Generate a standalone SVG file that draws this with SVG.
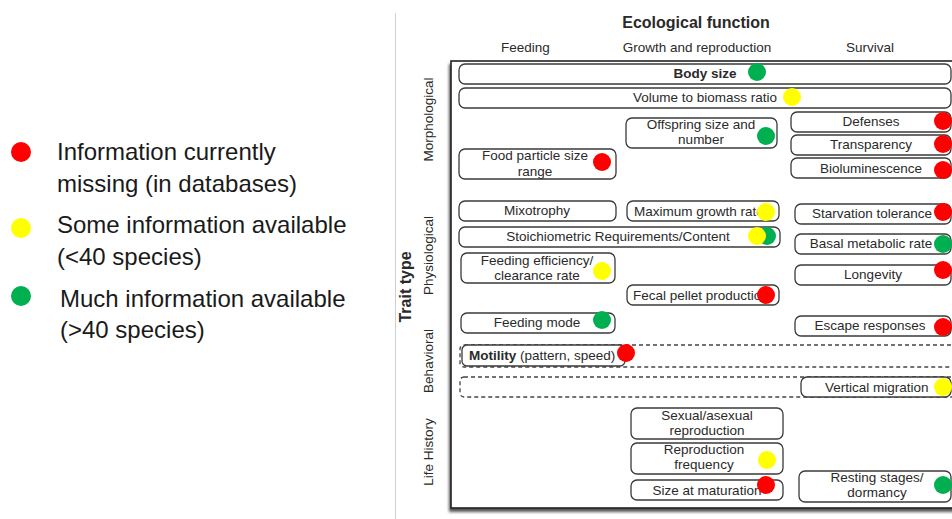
<svg xmlns="http://www.w3.org/2000/svg" width="952" height="519" viewBox="0 0 952 519">
<defs>
<style>
.box{fill:#fff;stroke:#3a3a3a;stroke-width:1.3}
.dash{fill:none;stroke:#444;stroke-width:1.3;stroke-dasharray:4 3}
.t{font-family:"Liberation Sans",Arial,sans-serif;font-size:13.5px;fill:#2a2a2a}
.c{text-anchor:middle}
.b{font-weight:bold}
.h{font-family:"Liberation Sans",Arial,sans-serif;font-size:13.5px;fill:#2a2a2a;text-anchor:middle}
.leg{font-family:"Liberation Sans",Arial,sans-serif;font-size:24px;fill:#1a1a1a}
.r{fill:#ff0000}
.y{fill:#ffff00}
.g{fill:#00b050}
</style>
<filter id="sh" x="-5%" y="-5%" width="110%" height="110%"><feGaussianBlur stdDeviation="1.5"/></filter>
</defs>
<rect width="952" height="519" fill="#fff"/>

<g id="legend">
<circle class="r" cx="21" cy="152" r="10"/>
<text class="leg" x="57" y="160">Information currently</text>
<text class="leg" x="57" y="192">missing (in databases)</text>
<circle class="y" cx="21" cy="228" r="10"/>
<text class="leg" x="57" y="233">Some information available</text>
<text class="leg" x="57" y="265">(&lt;40 species)</text>
<circle class="g" cx="21" cy="296" r="10"/>
<text class="leg" x="60" y="307">Much information available</text>
<text class="leg" x="60" y="338">(&gt;40 species)</text>
</g>

<line x1="395.5" y1="13" x2="395.5" y2="519" stroke="#cfcfcf" stroke-width="1"/>

<g id="headers">
<text class="h b" x="696" y="28" style="font-size:16px">Ecological function</text>
<text class="h" x="525.5" y="52">Feeding</text>
<text class="h" x="697" y="52">Growth and reproduction</text>
<text class="h" x="870" y="52">Survival</text>
<text class="h b" transform="translate(411,287) rotate(-90)" style="font-size:16px">Trait type</text>
<text class="h" transform="translate(433,119.5) rotate(-90)">Morphological</text>
<text class="h" transform="translate(433,255.5) rotate(-90)">Physiological</text>
<text class="h" transform="translate(433,361) rotate(-90)">Behavioral</text>
<text class="h" transform="translate(433,452) rotate(-90)">Life History</text>
</g>

<g id="frame">
<rect x="449" y="64" width="520" height="448" fill="#555" filter="url(#sh)"/>
<rect x="451" y="61" width="520" height="447" fill="#fff" stroke="#222" stroke-width="1.6"/>
</g>

<g id="connectors"></g>

<g id="body-size">
<rect class="box" x="459" y="64" width="492" height="20" rx="6"/>
<text class="t c b" x="705" y="78">Body size</text>
<circle class="g" cx="757" cy="72" r="9"/>
</g>
<g id="volume-biomass">
<rect class="box" x="459" y="88" width="492" height="20" rx="6"/>
<text class="t c" x="705" y="102">Volume to biomass ratio</text>
<circle class="y" cx="792" cy="97" r="9"/>
</g>
<g id="offspring">
<rect class="box" x="626" y="118" width="151" height="30" rx="6"/>
<text class="t c" x="701" y="129">Offspring size and</text>
<text class="t c" x="701" y="144">number</text>
<circle class="g" cx="766" cy="136" r="9"/>
</g>
<g id="defenses">
<rect class="box" x="791" y="112" width="160" height="20" rx="6"/>
<text class="t c" x="871" y="126">Defenses</text>
<circle class="r" cx="943" cy="121" r="9"/>
</g>
<g id="transparency">
<rect class="box" x="791" y="135" width="160" height="20" rx="6"/>
<text class="t c" x="871" y="149">Transparency</text>
<circle class="r" cx="943" cy="144" r="9"/>
</g>
<g id="bioluminescence">
<rect class="box" x="791" y="158" width="160" height="20" rx="6"/>
<text class="t c" x="871" y="173">Bioluminescence</text>
<circle class="r" cx="943" cy="170" r="9"/>
</g>
<g id="food-particle">
<rect class="box" x="459" y="149" width="157" height="30" rx="6"/>
<text class="t c" x="535" y="160">Food particle size</text>
<text class="t c" x="535" y="176">range</text>
<circle class="r" cx="602" cy="162" r="9"/>
</g>
<g id="mixotrophy">
<rect class="box" x="459" y="201" width="157" height="20" rx="6"/>
<text class="t c" x="537" y="215">Mixotrophy</text>
</g>
<g id="max-growth">
<rect class="box" x="627" y="201" width="152" height="20" rx="6"/>
<text class="t" x="634" y="216">Maximum growth rate</text>
<circle class="y" cx="766" cy="212" r="9"/>
</g>
<g id="starvation">
<rect class="box" x="795" y="204" width="156" height="20" rx="6"/>
<text class="t c" x="872" y="218">Starvation tolerance</text>
<circle class="r" cx="943" cy="212" r="9"/>
</g>
<g id="stoichiometric">
<rect class="box" x="459" y="227" width="321" height="20" rx="6"/>
<text class="t c" x="618" y="241">Stoichiometric Requirements/Content</text>
<circle class="g" cx="767" cy="236" r="9"/>
<circle class="y" cx="757" cy="236" r="9"/>
</g>
<g id="basal-metabolic">
<rect class="box" x="795" y="234" width="156" height="20" rx="6"/>
<text class="t c" x="871" y="248">Basal metabolic rate</text>
<circle class="g" cx="943" cy="244" r="9"/>
</g>
<g id="feeding-efficiency">
<rect class="box" x="461" y="253" width="154" height="30" rx="6"/>
<text class="t c" x="537" y="265">Feeding efficiency/</text>
<text class="t c" x="537" y="280">clearance rate</text>
<circle class="y" cx="602" cy="271" r="9"/>
</g>
<g id="longevity">
<rect class="box" x="795" y="265" width="156" height="20" rx="6"/>
<text class="t c" x="873" y="279">Longevity</text>
<circle class="r" cx="943" cy="270" r="9"/>
</g>
<g id="fecal-pellet">
<rect class="box" x="627" y="285" width="152" height="20" rx="6"/>
<text class="t" x="633" y="300">Fecal pellet production</text>
<circle class="r" cx="766" cy="295" r="9"/>
</g>
<g id="feeding-mode">
<rect class="box" x="461" y="313" width="154" height="20" rx="6"/>
<text class="t c" x="537" y="327">Feeding mode</text>
<circle class="g" cx="602" cy="320" r="9"/>
</g>
<g id="escape">
<rect class="box" x="795" y="316" width="156" height="20" rx="6"/>
<text class="t c" x="870" y="330">Escape responses</text>
<circle class="r" cx="943" cy="327" r="9"/>
</g>
<g id="motility">
<rect class="dash" x="460" y="345" width="500" height="22" rx="4"/>
<rect class="box" x="462" y="345" width="163" height="21" rx="5"/>
<text class="t" x="469" y="360"><tspan class="b">Motility</tspan> (pattern, speed)</text>
<circle class="r" cx="626" cy="353" r="9"/>
</g>
<g id="vertical-migration">
<rect class="dash" x="460" y="377" width="500" height="20" rx="4"/>
<rect class="box" x="801" y="377" width="150" height="20" rx="6"/>
<text class="t" x="825" y="392">Vertical migration</text>
<circle class="y" cx="943" cy="387" r="9"/>
</g>
<g id="sexual-asexual">
<rect class="box" x="631" y="408" width="152" height="31" rx="6"/>
<text class="t c" x="707" y="420">Sexual/asexual</text>
<text class="t c" x="707" y="435">reproduction</text>
</g>
<g id="reproduction-frequency">
<rect class="box" x="631" y="443" width="152" height="31" rx="6"/>
<text class="t c" x="704" y="454">Reproduction</text>
<text class="t c" x="704" y="469">frequency</text>
<circle class="y" cx="767" cy="460" r="9"/>
</g>
<g id="size-maturation">
<rect class="box" x="631" y="480" width="152" height="20" rx="6"/>
<text class="t c" x="707" y="495">Size at maturation</text>
<circle class="r" cx="766" cy="485" r="9"/>
</g>
<g id="resting-stages">
<rect class="box" x="799" y="471" width="152" height="31" rx="6"/>
<text class="t c" x="877" y="482">Resting stages/</text>
<text class="t c" x="877" y="497">dormancy</text>
<circle class="g" cx="943" cy="485" r="9"/>
</g>
</svg>
